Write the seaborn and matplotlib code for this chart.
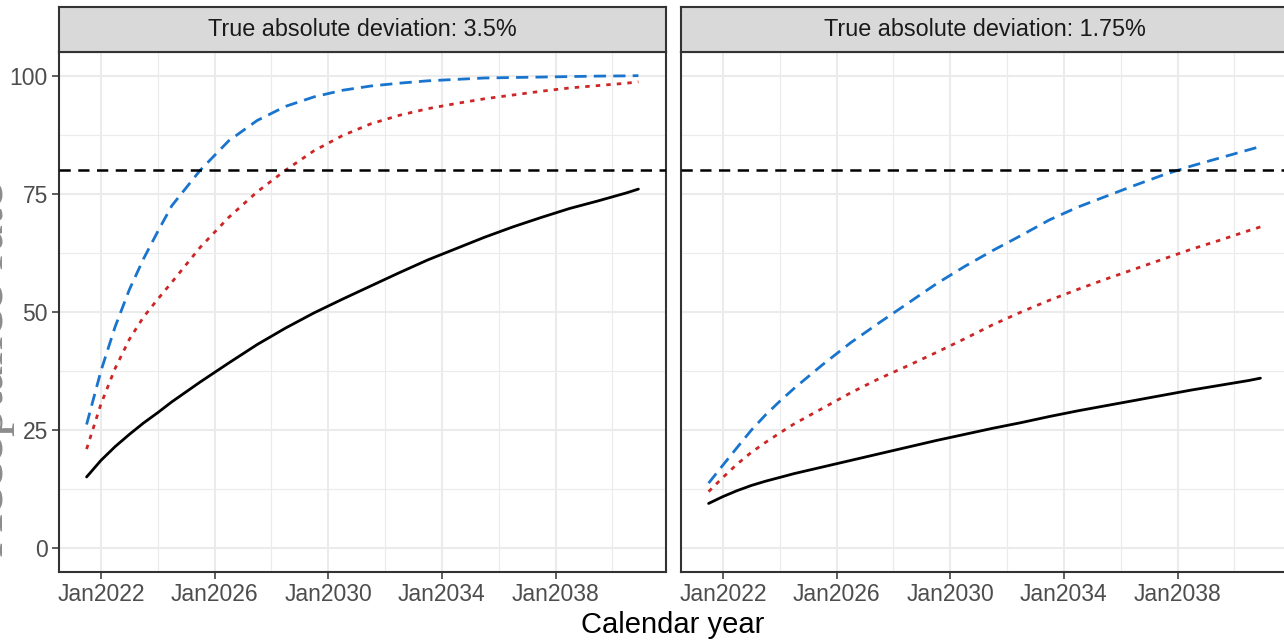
import numpy as np
import pandas as pd
import matplotlib
matplotlib.use("Agg")
import matplotlib.pyplot as plt
import matplotlib.dates as mdates
import seaborn as sns

# time points: half-yearly for the first three years, then yearly, last one end of 2040
dates = (list(pd.date_range("2021-07-01", periods=7, freq="6MS"))
         + list(pd.date_range("2025-07-01", periods=16, freq="12MS"))
         + [pd.Timestamp("2040-12-01")])

# panel 1: true absolute deviation 3.5%
blue_35 = [26.2, 37.5, 46.8, 54.7, 61.2, 67, 72.5, 80, 86.2, 90.5, 93.5, 95.5, 96.9, 97.8, 98.4,
           98.9, 99.2, 99.5, 99.6, 99.7, 99.8, 99.9, 99.95, 100]
red_35 = [21, 30.5, 38, 44.2, 48.9, 52.7, 56.3, 63.7, 70, 75.4, 80, 84.1, 87.3, 89.8, 91.6,
          93, 94.1, 95.1, 95.9, 96.7, 97.4, 97.9, 98.4, 98.7]
black_35 = [15.1, 18.6, 21.5, 24.1, 26.5, 28.7, 31, 35.2, 39.2, 43.1, 46.6, 49.8, 52.7, 55.5, 58.3,
            61, 63.4, 65.8, 68, 70, 71.9, 73.5, 75.2, 76]

# panel 2: true absolute deviation 1.75%
blue_175 = [13.8, 17.6, 21.3, 25, 28.2, 31.1, 33.8, 38.8, 43.5, 47.7, 51.8, 55.9, 59.6, 63, 66.2,
            69.5, 72.2, 74.5, 76.8, 79, 80.9, 82.6, 84.3, 85]
red_175 = [12, 15, 17.8, 20.3, 22.4, 24.4, 26.3, 29.6, 32.9, 35.9, 38.6, 41.4, 44.3, 47.3, 50,
           52.5, 54.8, 57, 59.1, 61.2, 63.3, 65.2, 67.2, 68]
black_175 = [9.5, 10.95, 12.2, 13.3, 14.2, 15.0, 15.8, 17.2, 18.6, 20, 21.4, 22.8, 24.1, 25.4, 26.6,
             27.9, 29.1, 30.2, 31.3, 32.4, 33.5, 34.5, 35.5, 36]

panel_titles = ["True absolute deviation: 3.5%", "True absolute deviation: 1.75%"]
panel_data = [(blue_35, red_35, black_35), (blue_175, red_175, black_175)]
threshold = 80

blue = "#1874CD"
red = "#CD2626"

sns.set_theme(style="white")
plt.rcParams["font.family"] = ["Liberation Sans", "DejaVu Sans"]

W, H = 1284, 641
fig = plt.figure(figsize=(W / 100, H / 100), dpi=100)

lefts = [59, 681]
pw = 607
top, bottom, strip_top = 52, 572, 7

x0 = mdates.date2num(dates[0])
x1 = mdates.date2num(dates[-1])
pad = (x1 - x0) * 0.05

major_years = [2022, 2026, 2030, 2034, 2038]
minor_years = [2020, 2024, 2028, 2032, 2036, 2040]

for i, (blu, rd, blk) in enumerate(panel_data):
    l = lefts[i]
    ax = fig.add_axes([l / W, (H - bottom) / H, pw / W, (bottom - top) / H])
    st = fig.add_axes([l / W, (H - top) / H, pw / W, (top - strip_top) / H])

    df = pd.DataFrame({"date": dates, "blue": blu, "red": rd, "black": blk})
    sns.lineplot(data=df, x="date", y="black", ax=ax, color="black", linewidth=2.0)
    sns.lineplot(data=df, x="date", y="red", ax=ax, color=red, linewidth=2.0, linestyle=(0, (1.6, 2.2)))
    sns.lineplot(data=df, x="date", y="blue", ax=ax, color=blue, linewidth=2.0, linestyle=(0, (4.4, 2.6)))
    ax.axhline(threshold, color="black", linewidth=1.8, linestyle=(0, (4.5, 3)), zorder=3)

    ax.set_xticks([mdates.date2num(pd.Timestamp(f"{y}-01-01")) for y in major_years])
    ax.set_xticks([mdates.date2num(pd.Timestamp(f"{y}-01-01")) for y in minor_years], minor=True)
    ax.xaxis.set_major_formatter(mdates.DateFormatter("Jan%Y"))
    ax.set_yticks([0, 25, 50, 75, 100])
    ax.set_yticks([12.5, 37.5, 62.5, 87.5], minor=True)
    ax.set_xlim(x0 - pad, x1 + pad)
    ax.set_ylim(-5, 105)
    ax.grid(which="major", color="#EBEBEB", linewidth=1.5)
    ax.grid(which="minor", color="#EBEBEB", linewidth=0.8)
    ax.set_axisbelow(True)
    ax.tick_params(which="major", length=5, width=1.1, color="#333333", labelsize=16.5,
                   labelcolor="#4D4D4D", pad=3, bottom=True, left=True)
    ax.tick_params(which="minor", length=0)
    if i == 1:
        ax.tick_params(axis="y", left=False, labelleft=False)
    for s in ax.spines.values():
        s.set_color("#333333")
        s.set_linewidth(1.5)
    ax.set_xlabel("")
    ax.set_ylabel("")

    st.set_facecolor("#D9D9D9")
    st.set_xticks([])
    st.set_yticks([])
    for s in st.spines.values():
        s.set_color("#333333")
        s.set_linewidth(1.5)
    st.text(0.5, 0.5, panel_titles[i], ha="center", va="center", fontsize=16.8, color="#1A1A1A",
            transform=st.transAxes)

fig.text(673 / W, (H - 625) / H, "Calendar year", ha="center", va="center", fontsize=21, color="black")
fig.text(3 / W, (H - 369) / H, "Acceptance rate", rotation=90, rotation_mode="anchor",
         ha="center", va="baseline", fontsize=42, color="#8C8C8C", family="Liberation Serif")

fig.savefig("out.png", dpi=100)
